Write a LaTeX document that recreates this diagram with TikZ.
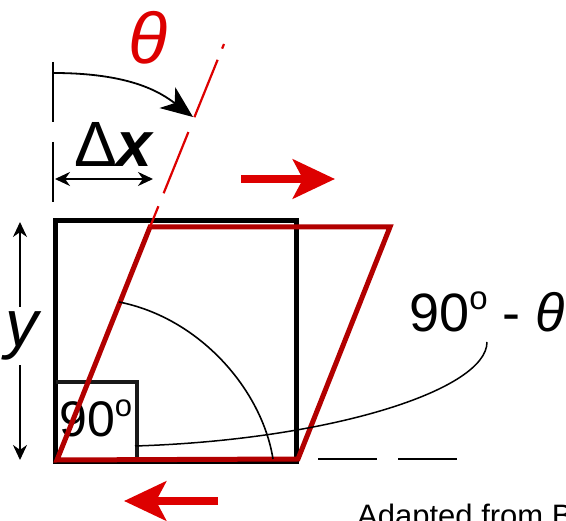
\documentclass[tikz,border=0pt]{standalone}
\usepackage{fontspec}
\setmainfont{Liberation Sans}
\usetikzlibrary{arrows.meta,positioning,calc}

\definecolor{shearred}{RGB}{178,0,0}
\definecolor{pushred}{RGB}{221,0,0}
\newcommand{\supo}{\raisebox{20pt}{\fontsize{31}{31}\selectfont o}}
\newcommand{\supO}{\raisebox{22pt}{\fontsize{33}{33}\selectfont o}}

\begin{document}
\begin{tikzpicture}[x=1pt,y=-1pt,
      sq/.style={draw=black,line width=5pt},
      shear/.style={draw=shearred,line width=5pt},
      guide/.style={draw=black,line width=1.8pt},
      tip/.style={-{Stealth[length=15pt,width=14pt]}},
      push/.style={draw=pushred,line width=8pt,-{Stealth[length=42pt,width=39pt,inset=10pt,fill=pushred]}},
      lbl/.style={inner sep=0pt,font=\fontsize{50}{50}\selectfont}
    ]
    \useasboundingbox (0,0) rectangle (566,521);
    \clip (0,0) rectangle (566,521);

    \coordinate (sqA) at (55.5,462);
    \coordinate (sqB) at (296,462);
    \coordinate (sqC) at (296,221);
    \coordinate (sqD) at (55.5,221);
    \draw[sq] (sqA) -- (sqB) -- (sqC) -- (sqD) -- cycle;

    \coordinate (rL) at (55.5,382);
    \coordinate (rC) at (137,382);
    \coordinate (rB) at (137,459);
    \draw[line width=3.2pt,draw=black!90] (rL) -- (rC) -- (rB);
    \node[lbl,anchor=base west] (rt) at (59,437) {90\supo};

    \coordinate (pA) at (57,460);
    \coordinate (pB) at (298,459);
    \coordinate (pC) at (390,227);
    \coordinate (pD) at (150,227);
    \coordinate (pTop) at (224,44);
    \draw[shear] (pA) -- (pB) -- (pC) -- (pD) -- cycle;
    \draw[draw=pushred,line width=2.2pt,dash pattern=on 5pt off 12pt on 62pt off 16pt on 66pt off 14pt on 40pt] (pTop) -- (pD);

    \coordinate (arcA) at (119,302);
    \coordinate (arcB) at (273,459);
    \draw[guide,line width=1.6pt] (arcA) .. controls (200,318) and (262,390) .. (arcB);

    \node[lbl,anchor=base west,font=\fontsize{54}{54}\selectfont] (angl) at (409,332) {90\supO{} - \textit{θ}};
    \coordinate (angtip) at (487,342);
    \coordinate (angtail) at (135,446);
    \draw[guide,line width=1.5pt] (angtip) .. controls +(0,48) and +(195,-6) .. (angtail);

    \coordinate (hA) at (318,459);
    \coordinate (hB) at (458,459);
    \draw[guide,line width=2.5pt,dash pattern=on 59pt off 21pt] (hA) -- (hB);

    \node[inner sep=0pt,text=pushred,font=\fontsize{72}{72}\selectfont\itshape] (th) at (148,38) {θ};
    \coordinate (v1a) at (53,62);
    \coordinate (v1b) at (53,122);
    \coordinate (v2a) at (53,142);
    \coordinate (v2b) at (53,202);
    \draw[guide] (v1a) -- (v1b);
    \draw[guide] (v2a) -- (v2b);
    \coordinate (rot0) at (53,73);
    \coordinate (rot1) at (193,117);
    \draw[guide,-{Stealth[length=32pt,width=26pt,inset=9pt]}] (rot0) .. controls (130,73) and (160,92) .. (rot1);

    \node[inner sep=0pt,anchor=base west,font=\fontsize{64}{64}\selectfont] (dx) at (74,167) {Δ\textbf{\textit{x}}};
    \coordinate (dxl) at (55,179);
    \coordinate (dxr) at (153,179);
    \draw[guide,{Stealth[length=15pt,width=14pt]}-{Stealth[length=15pt,width=14pt]}] (dxl) -- (dxr);

    \node[inner sep=5pt,font=\fontsize{66}{66}\selectfont\itshape] (yl) at (22,336) {y};
    \coordinate (ytop) at (20,222);
    \coordinate (ybot) at (20,460);
    \draw[guide,tip] (yl.north -| ytop) -- (ytop);
    \draw[guide,tip] (yl.south -| ybot) -- (ybot);

    \coordinate (fA) at (241,179);
    \coordinate (fB) at (335,179);
    \draw[push] (fA) -- (fB);
    \coordinate (gA) at (218,501);
    \coordinate (gB) at (124,501);
    \draw[push] (gA) -- (gB);

    \node[inner sep=0pt,anchor=base west,font=\fontsize{31}{31}\selectfont] (src) at (357,527) {Adapted from B};
  \end{tikzpicture}
\end{document}
